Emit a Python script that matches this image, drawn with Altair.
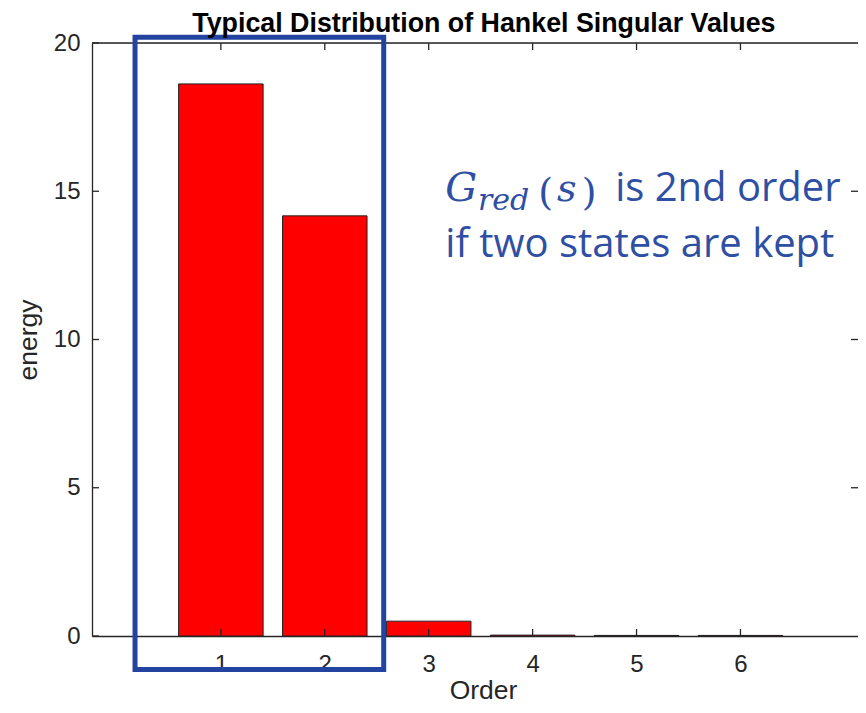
import altair as alt
import pandas as pd

# ---- data ----
orders = [1, 2, 3, 4, 5, 6]
energy = [18.62, 14.17, 0.50, 0.03, 0.02, 0.02]
y_ticks = [0, 5, 10, 15, 20]
right_ticks = [5, 10, 15]
x_domain = [-0.192, 7.083]
y_domain = [0, 20]

title_text = "Typical Distribution of Hankel Singular Values"
title_pos = [3.531, 20.37]
x_title = "Order"
y_title = "energy"

# annotation (data units)
box_x = [0.174, 2.567]
box_y = [-1.13, 20.19]

ital_text = ["G", "red", "s"]
ital_x = [3.160, 3.474, 4.234]
ital_y = [14.67, 14.37, 14.67]
ital_size = [40, 30, 38]

paren_text = ["(", ")"]
paren_x = [4.053, 4.472]
paren_y = [14.54, 14.54]

sans_text = ["is 2nd order", "if two states are kept"]
sans_x = [4.794, 3.160]
sans_y = [14.67, 12.77]

BLUE_TXT = "#2E4FA3"
BLUE_BOX = "#2343A0"
AX = "#262626"
W, H = 766, 593

xs = alt.Scale(domain=x_domain, nice=False, zero=False)
ys = alt.Scale(domain=y_domain, nice=False)

x_axis = alt.Axis(values=orders, ticks=False, grid=False, domainColor=AX,
                  domainWidth=1.3, labelFontSize=24, labelColor=AX,
                  labelFont="Liberation Sans", labelPadding=16,
                  titleFontSize=26.5, titleFont="Liberation Sans",
                  titleFontWeight="normal", titleColor=AX,
                  titleBaseline="alphabetic", titleY=62, titleX=W / 2 + 8)
y_axis = alt.Axis(values=y_ticks, ticks=False, grid=False, domainColor=AX,
                  domainWidth=1.3, labelFontSize=24, labelColor=AX,
                  labelFont="Liberation Sans", labelPadding=12,
                  titleFontSize=26.5, titleFont="Liberation Sans",
                  titleFontWeight="normal", titleColor=AX,
                  titleBaseline="alphabetic", titleX=-56, titleY=H / 2)


def X(f):
    return alt.X(f, scale=xs, axis=x_axis, title=x_title)


def Y(f):
    return alt.Y(f, scale=ys, axis=y_axis, title=y_title)


bars_df = pd.DataFrame({"order": orders, "energy": energy})

bars = alt.Chart(bars_df).mark_bar(
    size=84.5, color="#FF0000", stroke="#222222", strokeWidth=1
).encode(x=X("order:Q"), y=Y("energy:Q"))

tick_x_df = pd.DataFrame({"order": orders})
tick_y_df = pd.DataFrame({"v": y_ticks})
tick_r_df = pd.DataFrame({"v": right_ticks})

bottom_ticks = alt.Chart(tick_x_df).mark_rule(color=AX, strokeWidth=1.3).encode(
    x=X("order:Q"), y=alt.value(H), y2=alt.value(H - 7))
top_ticks = alt.Chart(tick_x_df).mark_rule(color=AX, strokeWidth=1.3).encode(
    x=X("order:Q"), y=alt.value(0), y2=alt.value(7))
left_ticks = alt.Chart(tick_y_df).mark_rule(color=AX, strokeWidth=1.3).encode(
    y=Y("v:Q"), x=alt.value(0), x2=alt.value(7))
rticks = alt.Chart(tick_r_df).mark_rule(color=AX, strokeWidth=1.3).encode(
    y=Y("v:Q"), x=alt.value(W - 7), x2=alt.value(W))
top_line = alt.Chart(pd.DataFrame({"a": [0]})).mark_rule(color=AX, strokeWidth=1.3).encode(
    x=alt.value(0), x2=alt.value(W), y=alt.value(0))

box = alt.Chart(pd.DataFrame({"x": [box_x[0]], "x2": [box_x[1]],
                              "y": [box_y[0]], "y2": [box_y[1]]})).mark_rect(
    fill=None, fillOpacity=0, stroke=BLUE_BOX, strokeWidth=5
).encode(x=X("x:Q"), x2="x2:Q", y=Y("y:Q"), y2="y2:Q")

title_mark = alt.Chart(pd.DataFrame({"t": [title_text], "x": [title_pos[0]], "y": [title_pos[1]]})).mark_text(
    font="Liberation Sans", fontSize=26.8, fontWeight="bold", align="center",
    baseline="alphabetic", color="black"
).encode(x=X("x:Q"), y=Y("y:Q"), text="t:N")

ital = alt.Chart(pd.DataFrame({"t": ital_text, "x": ital_x, "y": ital_y, "s": ital_size})).mark_text(
    font="DejaVu Serif", fontStyle="italic", align="left", baseline="alphabetic", color=BLUE_TXT
).encode(x=X("x:Q"), y=Y("y:Q"), text="t:N", size=alt.Size("s:Q", scale=None, legend=None))

parens = alt.Chart(pd.DataFrame({"t": paren_text, "x": paren_x, "y": paren_y})).mark_text(
    font="DejaVu Serif", fontSize=38, align="left", baseline="alphabetic", color=BLUE_TXT
).encode(x=X("x:Q"), y=Y("y:Q"), text="t:N")

sans = alt.Chart(pd.DataFrame({"t": sans_text, "x": sans_x, "y": sans_y})).mark_text(
    font="Open Sans", fontSize=40, align="left", baseline="alphabetic", color=BLUE_TXT
).encode(x=X("x:Q"), y=Y("y:Q"), text="t:N")

chart = alt.layer(
    bars, bottom_ticks, top_ticks, left_ticks, rticks, top_line, box, title_mark, ital, parens, sans
).properties(
    width=W, height=H,
    autosize=alt.AutoSizeParams(type="none"),
    padding={"left": 84, "top": 35, "right": 0, "bottom": 69},
).configure_view(stroke=None).configure(background="white")

chart.save("out.html", embed_options={"renderer": "svg", "actions": False})
